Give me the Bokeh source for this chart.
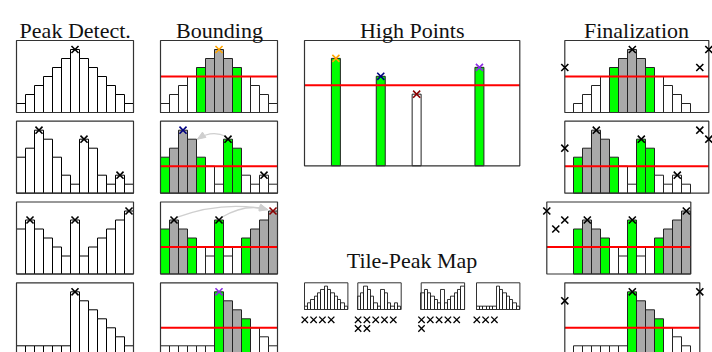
import numpy as np
from bokeh.plotting import figure
from bokeh.models import Range1d
from bokeh.core.properties import value
from bokeh.embed import file_html
from bokeh.resources import INLINE

# ---------------- data ----------------
titles = ["Peak Detect.", "Bounding", "High Points", "Finalization"]
map_title = "Tile-Peak Map"

tile_values = [
    [1, 2, 3, 4, 5, 6, 7, 6, 5, 4, 3, 2, 1],
    [4, 5, 7, 6, 4, 2, 1, 6, 5, 2, 1, 2, 1],
    [5, 6, 5, 4, 3, 2, 6, 2, 3, 4, 5, 6, 7],
    [1, 1, 1, 1, 1, 1, 7, 6, 5, 4, 3, 2, 1],
]
bound_values = [
    [1, 2, 3, 4, 5, 6, 7, 6, 5, 4, 3, 2, 1],
    [4, 5, 7, 6, 4, 3, 1, 6, 5, 2, 1, 2, 1],
    [5, 6, 5, 4, 3, 2, 6, 2, 3, 4, 5, 6, 7],
    [1, 1, 1, 1, 1, 1, 7, 6, 5, 4, 3, 2, 1],
]
peaks = [[6], [2, 7, 11], [1, 6, 12], [6]]
thresholds = [4, 3, 3, 3]
bar_roles = ["wwwwgsssgwwww", "gsssgwwggwwww", "gssgwwgwwgsss", "wwwwwwgssgwww"]
bound_peak_colors = [["#ffa500"], ["#000080", "black", "black"],
                     ["black", "black", "#8b0000"], ["#8a2be2"]]
final_extra_x = [[-1, 14, 15], [-1, 14, 15], [-3, -1, -2], [-1, 14]]
final_extra_y = [[5, 5, 7], [5, 7, 6], [7, 6, 5], [6, 7]]
final_xranges = [(-1, 15), (-1, 15), (-3, 13), (-1, 14)]

hp_x = [3.5, 8.5, 12.5, 19.5]
hp_values = [6, 5, 4, 5.5]
hp_threshold = 4.5
hp_roles = "ggwg"
hp_colors = ["#ffa500", "#000080", "#8b0000", "#8a2be2"]

tile_peak_counts = [4, 7, 6, 3]

# ---------------- style / layout ----------------
ROLE_FILL = {"w": "white", "g": "#00ff00", "s": "#a9a9a9"}
EDGE = "#222222"
BOX = "#333333"
FONT = value("Liberation Serif")
N = 13
YMAX = 8
UNIT = 9.0
PANEL_H = 72.0
ROW_TOP = [40.0, 120.7, 201.5, 282.3]
COL1_X = 16.0
COL2_X = 160.0
COL4_X0 = 573.3
HP_BOX = (304.0, 519.3, 165.3, 40.0)
HP_XMAX = 24
HP_YMAX = 7
TILE_X = [304.0, 357.3, 420.7, 476.0]
TILE_W = 43.4
TILE_Y = (309.0, 282.3)

p = figure(width=712, height=352, x_range=Range1d(0, 712), y_range=Range1d(352, 0),
           output_backend="svg", toolbar_location=None, min_border=0)
p.axis.visible = False
p.grid.visible = False
p.outline_line_color = None
p.background_fill_color = "white"
p.border_fill_color = "white"


def panel(x0, x1, ybot, ytop, xs, ys):
    return p.subplot(x_source=Range1d(*xs), y_source=Range1d(*ys),
                     x_target=Range1d(x0, x1), y_target=Range1d(ybot, ytop))


def bars(sub, vals, roles=None, lw=1.0, color=EDGE):
    left = np.arange(len(vals))
    fills = [ROLE_FILL[r] for r in roles] if roles else ["white"] * len(vals)
    sub.quad(left=left, right=left + 1, bottom=0, top=vals, fill_color=fills,
             line_color=color, line_width=lw)


def box(sub, xs, ymax, lw=1.2):
    sub.quad(left=xs[0], right=xs[1], bottom=0, top=ymax, fill_color=None,
             line_color=BOX, line_width=lw)


def peak_marks(sub, vals, idx, colors, size=10):
    sub.scatter(x=[i + 0.5 for i in idx], y=[vals[i] for i in idx], marker="x",
                size=size, line_color=colors, line_width=1.6)


def arrow(sub, x0, y0, x1, y1, cx, cy):
    sub.quadratic(x0=x0, y0=y0, x1=x1, y1=y1, cx=cx, cy=cy,
                  line_color="#cfcfcf", line_width=1.3)
    d = np.array([x1 - cx, y1 - cy], float)
    d /= np.hypot(*d)
    n = np.array([-d[1], d[0]])
    tip = np.array([x1, y1])
    base = tip - 0.9 * d
    pts = [tip, base + 0.35 * n, base - 0.35 * n]
    sub.patch(x=[q[0] for q in pts], y=[q[1] for q in pts],
              fill_color="#cfcfcf", line_color="#cfcfcf")


for r in range(4):
    top = ROW_TOP[r]
    bot = top + PANEL_H
    # column 1: peak detection
    s1 = panel(COL1_X, COL1_X + N * UNIT, bot, top, (0, N), (0, YMAX))
    bars(s1, tile_values[r], lw=1.0, color="black")
    box(s1, (0, N), YMAX)
    peak_marks(s1, tile_values[r], peaks[r], ["black"] * len(peaks[r]))

    # column 2: bounding
    s2 = panel(COL2_X, COL2_X + N * UNIT, bot, top, (0, N), (0, YMAX))
    bars(s2, bound_values[r], bar_roles[r])
    s2.segment(x0=0, x1=N, y0=thresholds[r], y1=thresholds[r], line_color="red", line_width=2)
    box(s2, (0, N), YMAX)
    if r == 1:
        arrow(s2, 7.3, 6.3, 4.1, 6.0, 5.7, 7.05)
    if r == 2:
        arrow(s2, 1.8, 6.3, 11.9, 7.15, 7.0, 8.2)
        arrow(s2, 6.8, 6.3, 11.9, 7.15, 9.5, 7.9)
    peak_marks(s2, bound_values[r], peaks[r], bound_peak_colors[r])

    # column 4: finalization
    xr = final_xranges[r]
    s4 = panel(COL4_X0 + xr[0] * UNIT, COL4_X0 + xr[1] * UNIT, bot, top, xr, (0, YMAX))
    bars(s4, bound_values[r], bar_roles[r])
    s4.segment(x0=xr[0], x1=xr[1], y0=thresholds[r], y1=thresholds[r], line_color="red", line_width=2)
    box(s4, xr, YMAX)
    peak_marks(s4, bound_values[r], peaks[r], ["black"] * len(peaks[r]))
    s4.scatter(x=final_extra_x[r], y=final_extra_y[r], marker="x", size=10,
               line_color="black", line_width=1.6)

    # tile-peak map
    st = panel(TILE_X[r], TILE_X[r] + TILE_W, TILE_Y[0], TILE_Y[1], (0, N), (0, YMAX))
    bars(st, tile_values[r], lw=0.8, color="black")
    box(st, (0, N), YMAX, lw=1.0)
    k = np.arange(tile_peak_counts[r])
    p.scatter(x=TILE_X[r] + 0.3 + 8.8 * (k % 5), y=319.3 + 8.7 * (k // 5), marker="x",
              size=9, line_color="black", line_width=1.3)

# column 3: high points
hp = panel(HP_BOX[0], HP_BOX[1], HP_BOX[2], HP_BOX[3], (0, HP_XMAX), (0, HP_YMAX))
hp.vbar(x=hp_x, width=1.0, bottom=0, top=hp_values,
        fill_color=[ROLE_FILL[c] for c in hp_roles], line_color=EDGE, line_width=1.0)
hp.segment(x0=0, x1=HP_XMAX, y0=hp_threshold, y1=hp_threshold, line_color="red", line_width=2)
box(hp, (0, HP_XMAX), HP_YMAX)
hp.scatter(x=hp_x, y=hp_values, marker="x", size=10, line_color=hp_colors, line_width=1.6)

# titles
p.text(x=[74.7, 219.0, 411.7, 636.0], y=[30, 30, 30, 30], text=titles,
       text_font=FONT, text_font_size="22px", text_align="center",
       text_baseline="alphabetic", text_color="#111111")
p.text(x=[411.5], y=[260], text=[map_title], text_font=FONT, text_font_size="22px",
       text_align="center", text_baseline="alphabetic", text_color="#111111")

open("out.html", "w").write(file_html(p, INLINE))
